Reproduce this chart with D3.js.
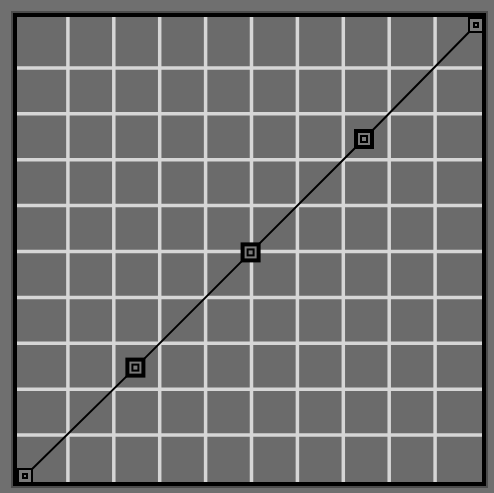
<!DOCTYPE html>
<html>
<head>
<meta charset="UTF-8">
<script src="https://d3js.org/d3.v7.min.js"></script>
<style>
  html, body { margin: 0; padding: 0; background: #6f6f6f; }
  svg { display: block; }
</style>
</head>
<body>
<svg id="chart"></svg>
<script>
// curve control points (input -> output, 0..255)
const inputs  = [0, 63, 127, 190, 255];
const outputs = [0, 63, 127, 190, 255];
// grid: 10 divisions
const gridTicks = d3.range(0, 256, 25.5);

const width = 494, height = 493;
const inner = { left: 17, top: 17, right: 482, bottom: 482 };

const svg = d3.select("#chart").attr("width", width).attr("height", height);

// frame
svg.append("rect").attr("x", 11).attr("y", 11).attr("width", 477).attr("height", 477).attr("fill", "#4c4c4c");
svg.append("rect").attr("x", 13).attr("y", 13).attr("width", 473).attr("height", 473).attr("fill", "#000");
svg.append("rect").attr("x", inner.left).attr("y", inner.top)
  .attr("width", inner.right - inner.left).attr("height", inner.bottom - inner.top)
  .attr("fill", "#6b6b6b");

const x = d3.scaleLinear().domain([0, 255]).range([22, 481]);
const y = d3.scaleLinear().domain([0, 255]).range([481, 22]);

// grid lines
const grid = svg.append("g").attr("stroke", "#d6d6d6").attr("stroke-width", 3.5);
grid.selectAll(".v").data(gridTicks.slice(1, -1)).enter().append("line")
  .attr("x1", d => x(d)).attr("x2", d => x(d))
  .attr("y1", inner.top).attr("y2", inner.bottom);
grid.selectAll(".h").data(gridTicks.slice(1, -1)).enter().append("line")
  .attr("y1", d => y(d)).attr("y2", d => y(d))
  .attr("x1", inner.left).attr("x2", inner.right);

const pts = inputs.map((v, i) => ({ i, v, o: outputs[i], end: i === 0 || i === inputs.length - 1 }));
// keep end handles inside the box
const px = d => d.end ? Math.min(Math.max(x(d.v), 25), 476) : x(d.v);
const py = d => d.end ? Math.min(Math.max(y(d.o), 25), 476) : y(d.o);

svg.append("path")
  .datum(pts)
  .attr("fill", "none")
  .attr("stroke", "#000")
  .attr("stroke-width", 2)
  .attr("d", d3.line().x(px).y(py));

// handles
const h = svg.selectAll(".handle").data(pts).enter().append("g")
  .attr("transform", d => `translate(${px(d)},${py(d)})`);
const sq = (g, s, fill) => g.append("rect").attr("x", -s / 2).attr("y", -s / 2)
  .attr("width", s).attr("height", s).attr("fill", fill);
h.each(function(d) {
  const g = d3.select(this);
  if (d.end) {
    sq(g, 16, "#000"); sq(g, 12, "#7a7a7a"); sq(g, 6, "#000"); sq(g, 2, "#7a7a7a");
  } else {
    sq(g, 20, "#000"); sq(g, 12, "#7a7a7a"); sq(g, 8, "#000"); sq(g, 4, "#7a7a7a");
  }
});
</script>
</body>
</html>
